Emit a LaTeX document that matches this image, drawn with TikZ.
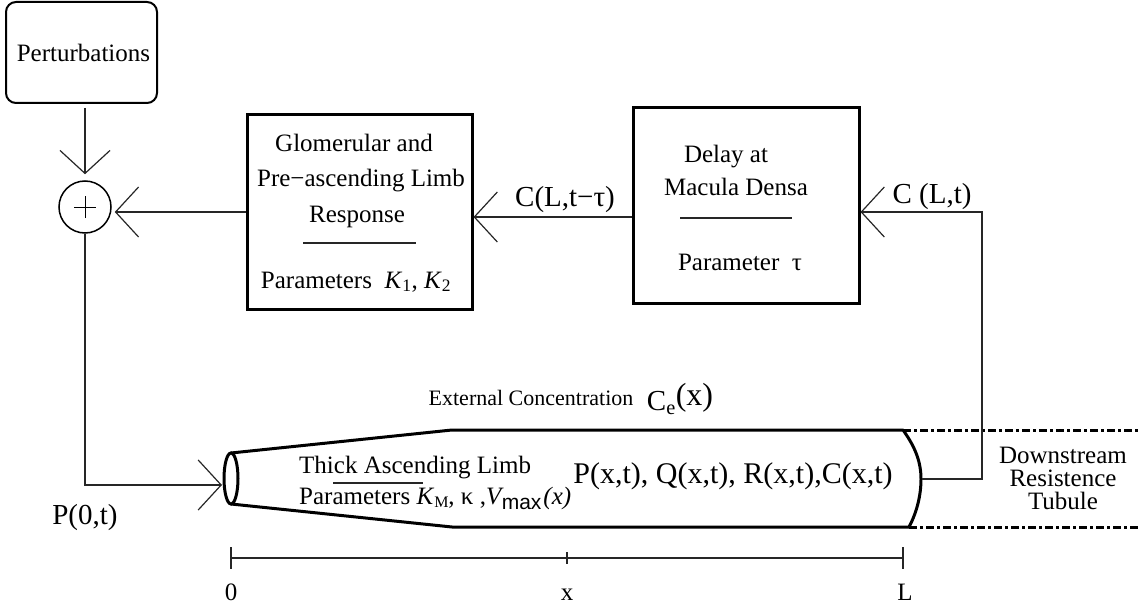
\documentclass[tikz,border=0pt]{standalone}
\usepackage{fontspec}
\setmainfont{Liberation Serif}
\newfontfamily\sansf{Liberation Sans}
\usetikzlibrary{arrows.meta}
\begin{document}
\begin{tikzpicture}[x=1pt,y=-1pt,
  thinline/.style={line width=1.2pt, draw=black!85},
  barb/.style={-{Straight Barb[length=23pt,width=50pt]}},
  thick box/.style={draw, line width=3pt, inner sep=0pt},
  tube/.style={line width=3pt},
  dashdot/.style={line width=3pt, dash pattern=on 8pt off 3pt on 3pt off 3pt},
  txt/.style={inner sep=0pt, font=\fontsize{25}{25}\selectfont},
  big/.style={inner sep=0pt, font=\fontsize{29}{29}\selectfont},
  small/.style={inner sep=0pt, font=\fontsize{22}{22}\selectfont},
]
\useasboundingbox (0,0) rectangle (1141,607);

% boxes
\node[draw, line width=2pt, rounded corners=10pt, minimum width=151pt, minimum height=101pt, inner sep=0pt] (pert) at (81.5,52.5) {};
\node[txt] (pertt) at (83.5,53) {Perturbations};
\node[circle, draw, line width=1.5pt, minimum size=52pt, inner sep=0pt] (sum) at (85,207) {};
\draw[line width=1pt] ([xshift=-11pt]sum.center) -- ([xshift=11pt]sum.center);
\draw[line width=1pt] ([yshift=-11pt]sum.center) -- ([yshift=11pt]sum.center);

\node[thick box, minimum width=225pt, minimum height=194pt] (glom) at (359.5,212) {};
\node[txt] (g1) at (354,143) {Glomerular and};
\node[txt] (g2) at (361,181) {Pre−ascending Limb};
\node[txt] (g3) at (357,217) {Response};
\draw[thinline] (303,243) -- (416,243);
\node[txt] (g4) at (356,282) {Parameters\ \ \textit{K}\textsubscript{1}, \textit{K}\textsubscript{2}};

\node[thick box, minimum width=226pt, minimum height=195pt] (delay) at (746,205.5) {};
\node[txt] (d1) at (726,157) {Delay at};
\node[txt] (d2) at (736,187) {Macula Densa};
\draw[thinline] (680,218) -- (792,218);
\node[txt] (d3) at (740,262) {Parameter\ \ τ};

% tube
\coordinate (tubein) at (222,485);
\coordinate (tubeend) at (922,479);
\draw[tube] (231,478.5) ellipse [x radius=7, y radius=25.5];
\draw[tube, line join=round] (231,453) -- (452,430) -- (903,430)
  .. controls (916,448) and (921,463) .. (921,479)
  .. controls (921,495) and (917,512) .. (909,527)
  -- (452,527) -- (231,504);
\draw[dashdot] (903,430) -- (1141,430);
\draw[dashdot] (909,527) -- (1141,527);

% connectors
\draw[thinline, barb, shorten <=4pt, shorten >=6pt] (pert.south -| sum.north) -- (sum.north);
\draw[thinline, barb, shorten >=3pt] (glom.west) -- (glom.west -| sum.east);
\draw[thinline, barb] ([yshift=-11.5pt]delay.west) -- ([yshift=-5pt]glom.east);
\draw[thinline, barb] (tubeend) -- ++(60,0) |- ([yshift=-6.5pt]delay.east);
\draw[thinline, barb] (sum.south) |- (tubein);

% labels
\node[big] (lblp0) at (85,518) {P(0,t)};
\node[big] (lblcd) at (565,200) {C(L,t−τ)};
\node[big] (lblcl) at (932,197) {C (L,t)};
\node[inner sep=0pt, font=\fontsize{30}{30}\selectfont] (state) at (733,476) {P(x,t), Q(x,t), R(x,t),C(x,t)};
\node[small] (ext) at (531,398) {External Concentration};
\node[inner sep=0pt] (ce) at (680,399) {\fontsize{29}{29}\selectfont C\textsubscript{e}\raisebox{5pt}{\fontsize{32}{32}\selectfont(x)}};
\node[txt, anchor=base west] (tal) at (299,473) {Thick Ascending Limb};
\node[txt, anchor=base west] (talp) at (299,504) {Parameters \textit{K}\raisebox{-3pt}{\fontsize{16}{16}\selectfont M}, κ ,\textit{V}\kern-2pt\raisebox{-5pt}{\fontsize{21}{21}\selectfont\sansf max}\kern2pt\textit{(x)}};
\draw[thinline] (333,483) -- (423,483);
\node[txt, align=center, font=\fontsize{25}{23}\selectfont] (ds) at (1063,478) {Downstream\\Resistence\\Tubule};

% axis
\coordinate (ax0) at (231,558);
\coordinate (axL) at (903,558);
\draw[thinline] (ax0) -- (axL);
\draw[thinline] (231,547) -- (231,569);
\draw[thinline] (567,552) -- (567,564);
\draw[thinline] (903,547) -- (903,569);
\node[txt, anchor=base] (l0) at (231,600) {0};
\node[txt, anchor=base] (lx) at (567,600) {x};
\node[txt, anchor=base] (lL) at (905,600) {L};
\end{tikzpicture}
\end{document}
